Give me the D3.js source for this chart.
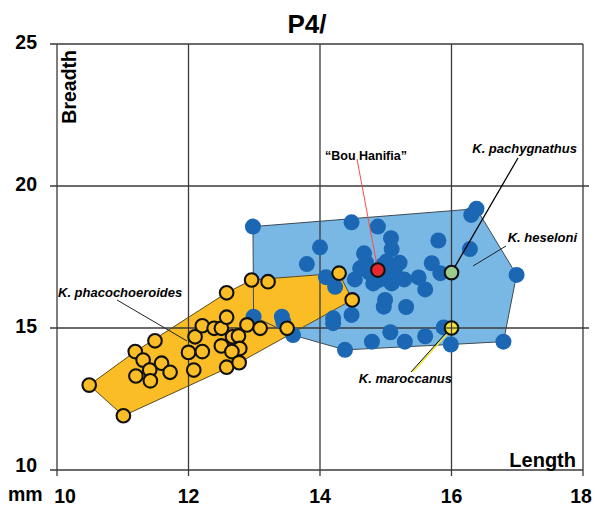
<!DOCTYPE html>
<html>
<head>
<meta charset="utf-8">
<script src="https://cdn.jsdelivr.net/npm/d3@7"></script>
<style>
  html, body { margin: 0; padding: 0; background: #fff; }
  svg { display: block; font-family: "Liberation Sans", Arial, Helvetica, sans-serif; }
</style>
</head>
<body>
<svg id="chart" width="595" height="506"></svg>
<script>
// P4/ crown dimensions (mm): length vs breadth
const xTicks = [10, 12, 14, 16, 18];
const yTicks = [10, 15, 20, 25];

// Kolpochoerus heseloni
const heseloniLength = [12.98, 14.48, 14.88, 15.08, 15.09, 15.80, 16.30, 16.38, 14.00, 13.80,
  16.28, 16.99, 14.09, 14.23, 14.99, 14.97, 15.31, 14.48, 14.20, 14.20,
  13.42, 13.44, 12.99, 13.59, 14.38, 14.79, 15.07, 15.29, 15.60, 15.88,
  15.99, 16.79, 14.67, 14.61, 14.81, 14.53, 15.01, 15.21, 15.08, 15.09,
  15.28, 15.50, 15.60, 15.70, 15.83, 14.75, 15.15, 14.90, 14.70, 15.15, 14.95];
const heseloniBreadth = [18.57, 18.72, 18.57, 18.16, 17.78, 18.08, 18.98, 19.20, 17.84, 17.25,
  17.78, 16.87, 16.79, 16.45, 15.99, 15.75, 15.74, 15.46, 15.34, 15.17,
  15.40, 15.22, 15.40, 14.75, 14.23, 14.52, 14.85, 14.52, 14.71, 15.02,
  14.42, 14.52, 17.63, 17.10, 16.57, 16.71, 17.34, 17.30, 16.98, 16.57,
  16.71, 16.78, 16.36, 17.28, 16.93, 16.95, 17.15, 16.70, 17.30, 16.85, 17.20];

// Kolpochoerus phacochoeroides
const phacoLength = [10.49, 11.01, 11.19, 11.49, 11.31, 11.59, 11.41, 11.20, 11.42, 11.72,
  12.08, 12.00, 12.21, 12.10, 12.21, 12.39, 12.50, 12.58, 12.58, 12.50,
  12.58, 12.67, 12.76, 12.78, 12.66, 12.77, 12.89, 13.09, 12.96, 13.21,
  13.50, 14.29, 14.49];
const phacoBreadth = [12.99, 11.91, 14.17, 14.55, 13.87, 13.76, 13.52, 13.31, 13.14, 13.44,
  13.52, 14.14, 14.17, 14.69, 15.08, 14.99, 14.99, 15.38, 16.24, 14.37,
  13.62, 14.69, 14.72, 14.28, 14.17, 13.78, 15.11, 14.99, 16.69, 16.63,
  14.99, 16.93, 15.99];

// Single specimens
const specimenNames = ["\u201cBou Hanifia\u201d", "K. pachygnathus", "K. maroccanus"];
const specimenLength = [14.88, 16.0, 16.0];
const specimenBreadth = [17.04, 16.95, 15.0];

const svg = d3.select("#chart");
const x = d3.scaleLinear().domain([10, 18]).range([57, 583]);
const y = d3.scaleLinear().domain([10, 25]).range([470, 44]);

const heseloni = heseloniLength.map((v, i) => [v, heseloniBreadth[i]]);
const phaco = phacoLength.map((v, i) => [v, phacoBreadth[i]]);
const toPx = d => [x(d[0]), y(d[1])];

const hullHes = d3.polygonHull(heseloni.map(toPx));
const hullPha = d3.polygonHull(phaco.map(toPx));
const poly = d3.line().curve(d3.curveLinearClosed);

// hull fills
svg.append("path").attr("d", poly(hullHes)).attr("fill", "#79b8e5");
svg.append("path").attr("d", poly(hullPha)).attr("fill", "#fbbd25");

// grid
const grid = svg.append("g").attr("stroke", "#3a3a3a").attr("stroke-width", 1.3);
grid.selectAll("line.h").data(yTicks).join("line")
  .attr("x1", x(10) - 7).attr("x2", d => (d === 15 || d === 20) ? x(18) + 6 : x(18))
  .attr("y1", d => y(d)).attr("y2", d => y(d));
grid.selectAll("line.v").data(xTicks).join("line")
  .attr("x1", d => x(d)).attr("x2", d => x(d))
  .attr("y1", y(25)).attr("y2", y(10) + 6);

// hull outlines
svg.append("path").attr("d", poly(hullHes)).attr("fill", "none")
  .attr("stroke", "#3d4a55").attr("stroke-width", 1);
svg.append("path").attr("d", poly(hullPha)).attr("fill", "none")
  .attr("stroke", "#5a4a20").attr("stroke-width", 1);

// heseloni points
svg.append("g").selectAll("circle").data(heseloni).join("circle")
  .attr("cx", d => x(d[0])).attr("cy", d => y(d[1])).attr("r", 8)
  .attr("fill", "#1b67b3");

// phacochoeroides points
svg.append("g").selectAll("circle").data(phaco).join("circle")
  .attr("cx", d => x(d[0])).attr("cy", d => y(d[1])).attr("r", 6.8)
  .attr("fill", "#fbbd25").attr("stroke", "#111").attr("stroke-width", 2.1);

// leader lines
const leaders = svg.append("g").attr("fill", "none");
leaders.append("line").attr("x1", 357).attr("y1", 159)
  .attr("x2", x(specimenLength[0])).attr("y2", y(specimenBreadth[0]))
  .attr("stroke", "#ff4a4a").attr("stroke-width", 1);
leaders.append("line").attr("x1", 518).attr("y1", 158)
  .attr("x2", x(specimenLength[1])).attr("y2", y(specimenBreadth[1]))
  .attr("stroke", "#000").attr("stroke-width", 1.3);
leaders.append("line").attr("x1", 413).attr("y1", 372)
  .attr("x2", x(specimenLength[2]) + 1).attr("y2", y(specimenBreadth[2]))
  .attr("stroke", "#f3e63a").attr("stroke-width", 1.6);
leaders.append("line").attr("x1", 411).attr("y1", 372)
  .attr("x2", x(specimenLength[2]) - 1).attr("y2", y(specimenBreadth[2]))
  .attr("stroke", "#000").attr("stroke-width", 1);
leaders.append("line").attr("x1", 506).attr("y1", 246).attr("x2", 473).attr("y2", 266)
  .attr("stroke", "#222").attr("stroke-width", 1);
leaders.append("line").attr("x1", 117).attr("y1", 300).attr("x2", 187).attr("y2", 341)
  .attr("stroke", "#222").attr("stroke-width", 1);

// single specimens
const specimenFill = ["#e8292b", "#9ccb8e", "#f1e33c"];
svg.append("g").selectAll("circle").data(specimenLength).join("circle")
  .attr("cx", d => x(d)).attr("cy", (d, i) => y(specimenBreadth[i])).attr("r", 6.8)
  .attr("fill", (d, i) => specimenFill[i]).attr("stroke", "#111").attr("stroke-width", 2.1);
// grid cross seen through the K. maroccanus marker
const mx = x(specimenLength[2]), my = y(specimenBreadth[2]);
svg.append("g").attr("stroke", "#3a3a3a").attr("stroke-width", 1.2)
  .call(g => {
    g.append("line").attr("x1", mx - 6).attr("x2", mx + 6).attr("y1", my).attr("y2", my);
    g.append("line").attr("x1", mx).attr("x2", mx).attr("y1", my - 6).attr("y2", my + 6);
  });

// text
svg.append("text").attr("x", 307).attr("y", 33).attr("text-anchor", "middle")
  .attr("font-size", 26).attr("font-weight", "bold").text("P4/");
svg.append("text").attr("transform", "translate(76,50) rotate(-90)").attr("text-anchor", "end")
  .attr("font-size", 19.5).attr("font-weight", "bold").text("Breadth");
svg.append("text").attr("x", 576).attr("y", 467).attr("text-anchor", "end")
  .attr("font-size", 20).attr("font-weight", "bold").text("Length");

svg.append("g").selectAll("text").data(yTicks).join("text")
  .attr("x", 37).attr("y", d => y(d) + (d === 10 ? 2 : 5)).attr("text-anchor", "end")
  .attr("font-size", 19.5).attr("font-weight", "bold").text(d => d);
svg.append("g").selectAll("text").data(xTicks).join("text")
  .attr("x", d => d === 10 ? x(d) + 8 : (d === 18 ? x(d) - 2 : x(d)))
  .attr("y", 503).attr("text-anchor", "middle")
  .attr("font-size", 19.5).attr("font-weight", "bold").text(d => d);
svg.append("text").attr("x", 8).attr("y", 501).attr("font-size", 19.5)
  .attr("font-weight", "bold").text("mm");

const lab = svg.append("g").attr("font-weight", "bold").attr("font-style", "italic").attr("font-size", 13);
lab.append("text").attr("x", 577).attr("y", 153).attr("text-anchor", "end").text(specimenNames[1]);
lab.append("text").attr("x", 577).attr("y", 242).attr("text-anchor", "end").text("K. heseloni");
lab.append("text").attr("x", 452).attr("y", 383).attr("text-anchor", "end").text(specimenNames[2]);
lab.append("text").attr("x", 58).attr("y", 297).text("K. phacochoeroides");
svg.append("text").attr("x", 366).attr("y", 160).attr("text-anchor", "middle")
  .attr("font-weight", "bold").attr("font-size", 12.5).text(specimenNames[0]);
</script>
</body>
</html>
